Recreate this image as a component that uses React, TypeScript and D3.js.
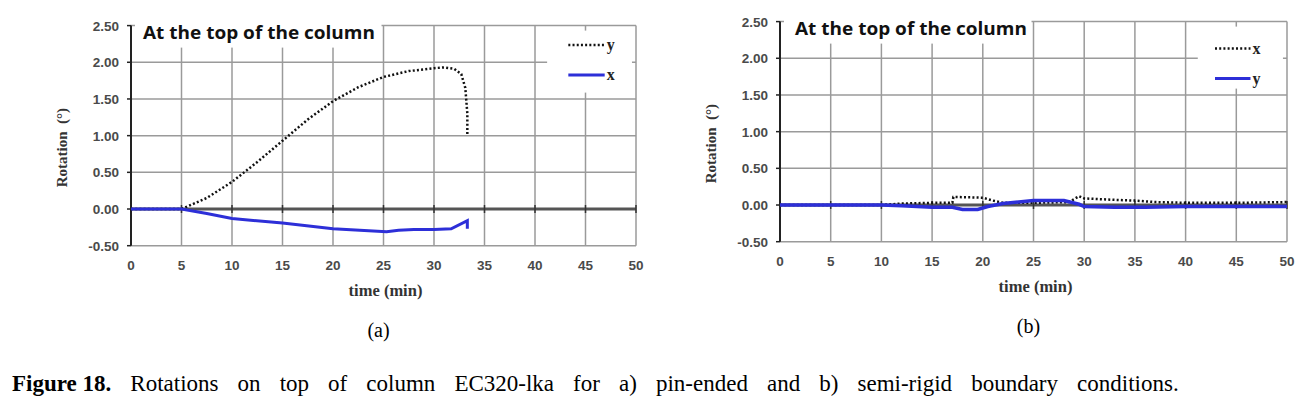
import React, { useEffect, useRef } from 'react';
import * as d3 from 'd3';

// panel (a) – pin-ended
const aTimeY = [0, 5, 7.5, 10, 12.5, 15, 17.5, 20, 22.5, 25, 27.5, 30, 31, 32, 32.7, 33.1, 33.3, 33.3];
const aRotY = [0, 0, 0.15, 0.37, 0.64, 0.93, 1.22, 1.47, 1.66, 1.8, 1.88, 1.92, 1.93, 1.91, 1.84, 1.65, 1.3, 1.0];
const aTimeX = [0, 5, 7.5, 10, 15, 20, 25.3, 26.5, 28, 30, 31.7, 33.3, 33.3];
const aRotX = [0, 0, -0.06, -0.13, -0.19, -0.27, -0.31, -0.29, -0.28, -0.28, -0.27, -0.16, -0.27];

// panel (b) – semi-rigid
const bTimeX = [0, 10, 12, 15, 17, 17.1, 20, 21, 22, 25, 28.5, 29.5, 30, 33, 35, 37, 40, 45, 50];
const bRotX = [0, 0, 0.02, 0.03, 0.03, 0.11, 0.1, 0.06, 0.03, 0.03, 0.04, 0.12, 0.09, 0.07, 0.06, 0.04, 0.03, 0.03, 0.04];
const bTimeY = [0, 10, 12, 15, 17, 18, 19.5, 20.5, 22, 25, 28, 29.5, 30, 33, 36, 40, 45, 50];
const bRotY = [0, 0, -0.01, -0.03, -0.03, -0.06, -0.06, -0.02, 0.02, 0.06, 0.06, 0.01, -0.02, -0.03, -0.03, -0.02, -0.02, -0.02];

const xTicks = d3.range(0, 51, 5);
const yTicks = [-0.5, 0, 0.5, 1, 1.5, 2, 2.5];

const panels = [
  {
    left: 131, right: 636, top: 25.6, bottom: 245.7, label: '(a)',
    titleX: 143, legendY: [19.5, 49.5], legendX: [43.3, 46.9], solidW: 3,
    dotted: { t: aTimeY, v: aRotY, name: 'y' },
    solid: { t: aTimeX, v: aRotX, name: 'x' },
  },
  {
    left: 780, right: 1287, top: 21.6, bottom: 241.7, label: '(b)',
    titleX: 795, legendY: [27, 57], legendX: [42.9, 46.4], solidW: 3.5,
    dotted: { t: bTimeX, v: bRotX, name: 'x' },
    solid: { t: bTimeY, v: bRotY, name: 'y' },
  },
];

const sans = '"Liberation Sans", Arial, sans-serif';
const serif = '"Liberation Serif", "Times New Roman", serif';
const blue = '#2d2fd8';
const grid = '#9a9a9a';

export default function App() {
  const ref = useRef<SVGSVGElement>(null);

  useEffect(() => {
    const svg = d3.select(ref.current);
    svg.selectAll('*').remove();

    panels.forEach((p) => {
      const x = d3.scaleLinear().domain([0, 50]).range([p.left, p.right]);
      const y = d3.scaleLinear().domain([-0.5, 2.5]).range([p.bottom, p.top]);
      const g = svg.append('g');

      // grid
      g.selectAll('.vg').data(xTicks.slice(1)).join('line')
        .attr('x1', (d) => x(d)).attr('x2', (d) => x(d))
        .attr('y1', p.top).attr('y2', p.bottom)
        .attr('stroke', grid).attr('stroke-width', 1.5);
      g.selectAll('.hg').data(yTicks.filter((d) => d !== 0)).join('line')
        .attr('x1', p.left).attr('x2', p.right)
        .attr('y1', (d) => y(d)).attr('y2', (d) => y(d))
        .attr('stroke', grid).attr('stroke-width', 1.5);

      // title box + title
      g.append('rect').attr('x', p.left + 4).attr('y', p.top - 6)
        .attr('width', x(25) - p.left - 6).attr('height', 28).attr('fill', '#fff');
      g.append('text').attr('x', p.titleX).attr('y', p.top + 13)
        .attr('font-family', '"Open Sans", sans-serif').attr('font-weight', 700)
        .attr('font-size', 17).attr('textLength', 232).attr('lengthAdjust', 'spacingAndGlyphs')
        .attr('fill', '#111').text('At the top of the column');

      // legend box
      g.append('rect').attr('x', x(41.2)).attr('y', p.top + 5)
        .attr('width', x(49.6) - x(41.2)).attr('height', 62).attr('fill', '#fff');

      // y axis labels
      g.selectAll('.yl').data(yTicks).join('text')
        .attr('x', p.left - 12).attr('y', (d) => y(d) + 5)
        .attr('text-anchor', 'end').attr('font-family', sans).attr('font-weight', 700)
        .attr('font-size', 13.5).attr('fill', '#4a4a4a').text((d) => d.toFixed(2));
      g.selectAll('.yt').data(yTicks).join('line')
        .attr('x1', p.left - 4).attr('x2', p.left)
        .attr('y1', (d) => y(d)).attr('y2', (d) => y(d))
        .attr('stroke', '#222').attr('stroke-width', 1.5);

      // x labels
      g.selectAll('.xl').data(xTicks).join('text')
        .attr('x', (d) => x(d)).attr('y', p.bottom + 24)
        .attr('text-anchor', 'middle').attr('font-family', sans).attr('font-weight', 700)
        .attr('font-size', 13.5).attr('fill', '#4a4a4a').text((d) => d);

      // zero line
      g.append('line').attr('x1', p.left).attr('x2', p.right)
        .attr('y1', y(0)).attr('y2', y(0)).attr('stroke', '#555').attr('stroke-width', 3);
      g.selectAll('.zt').data(xTicks.slice(1)).join('line')
        .attr('x1', (d) => x(d)).attr('x2', (d) => x(d))
        .attr('y1', y(0) - 4).attr('y2', y(0) + 4)
        .attr('stroke', '#333').attr('stroke-width', 1.5);

      // y axis
      g.append('line').attr('x1', p.left).attr('x2', p.left)
        .attr('y1', p.top).attr('y2', p.bottom).attr('stroke', '#222').attr('stroke-width', 2);

      // series
      const path = (t: number[], v: number[]) =>
        d3.line<number>().x((d) => x(d)).y((_, i) => y(v[i]))(t);
      g.append('path').attr('d', path(p.dotted.t, p.dotted.v)).attr('fill', 'none')
        .attr('stroke', '#111').attr('stroke-width', 2.5).attr('stroke-dasharray', '2 2.2');
      g.append('path').attr('d', path(p.solid.t, p.solid.v)).attr('fill', 'none')
        .attr('stroke', blue).attr('stroke-width', p.solidW);

      // legend
      const ls = [
        { s: p.dotted, dy: p.legendY[0], dotted: true },
        { s: p.solid, dy: p.legendY[1], dotted: false },
      ];
      ls.forEach((l) => {
        g.append('line').attr('x1', x(p.legendX[0])).attr('x2', x(p.legendX[1]))
          .attr('y1', p.top + l.dy).attr('y2', p.top + l.dy)
          .attr('stroke', l.dotted ? '#111' : blue).attr('stroke-width', l.dotted ? 2.5 : 3)
          .attr('stroke-dasharray', l.dotted ? '2 2.2' : null);
        g.append('text').attr('x', x(p.legendX[1]) + 2).attr('y', p.top + l.dy + 5)
          .attr('font-family', serif).attr('font-weight', 700).attr('font-size', 16)
          .attr('fill', '#222').text(l.s.name);
      });

      // axis titles
      g.append('text').attr('x', (p.left + p.right) / 2 + 2).attr('y', p.bottom + 50)
        .attr('text-anchor', 'middle').attr('font-family', serif).attr('font-weight', 700)
        .attr('font-size', 16.5).attr('fill', '#333').text('time (min)');
      g.append('text')
        .attr('transform', `translate(${p.left - 64},${(p.top + p.bottom) / 2 + 12}) rotate(-90)`)
        .attr('text-anchor', 'middle').attr('font-family', serif).attr('font-weight', 700)
        .attr('font-size', 15).attr('fill', '#333').attr('xml:space', 'preserve')
        .text('Rotation  (°)');

      // panel label
      g.append('text').attr('x', (p.left + p.right) / 2 - 5).attr('y', p.bottom + 91)
        .attr('text-anchor', 'middle').attr('font-family', serif)
        .attr('font-size', 20).attr('fill', '#000').text(p.label);
    });

    // caption
    const cap = svg.append('text').attr('x', 12).attr('y', 391)
      .attr('font-family', serif).attr('font-size', 23).attr('fill', '#000');
    cap.append('tspan').attr('font-weight', 700).text('Figure 18.');
    const rest = cap.append('tspan')
      .text(' Rotations on top of column EC320-lka for a) pin-ended and b) semi-rigid boundary conditions.');
    const node = cap.node() as SVGTextElement;
    const w = node.getComputedTextLength();
    const spaces = 15;
    const extra = (1180 - w) / spaces;
    if (extra > 0) rest.attr('word-spacing', extra);
  }, []);

  return (
    <svg ref={ref} width={1314} height={419}
      style={{ position: 'absolute', left: 0, top: 0, background: '#fff' }} />
  );
}
